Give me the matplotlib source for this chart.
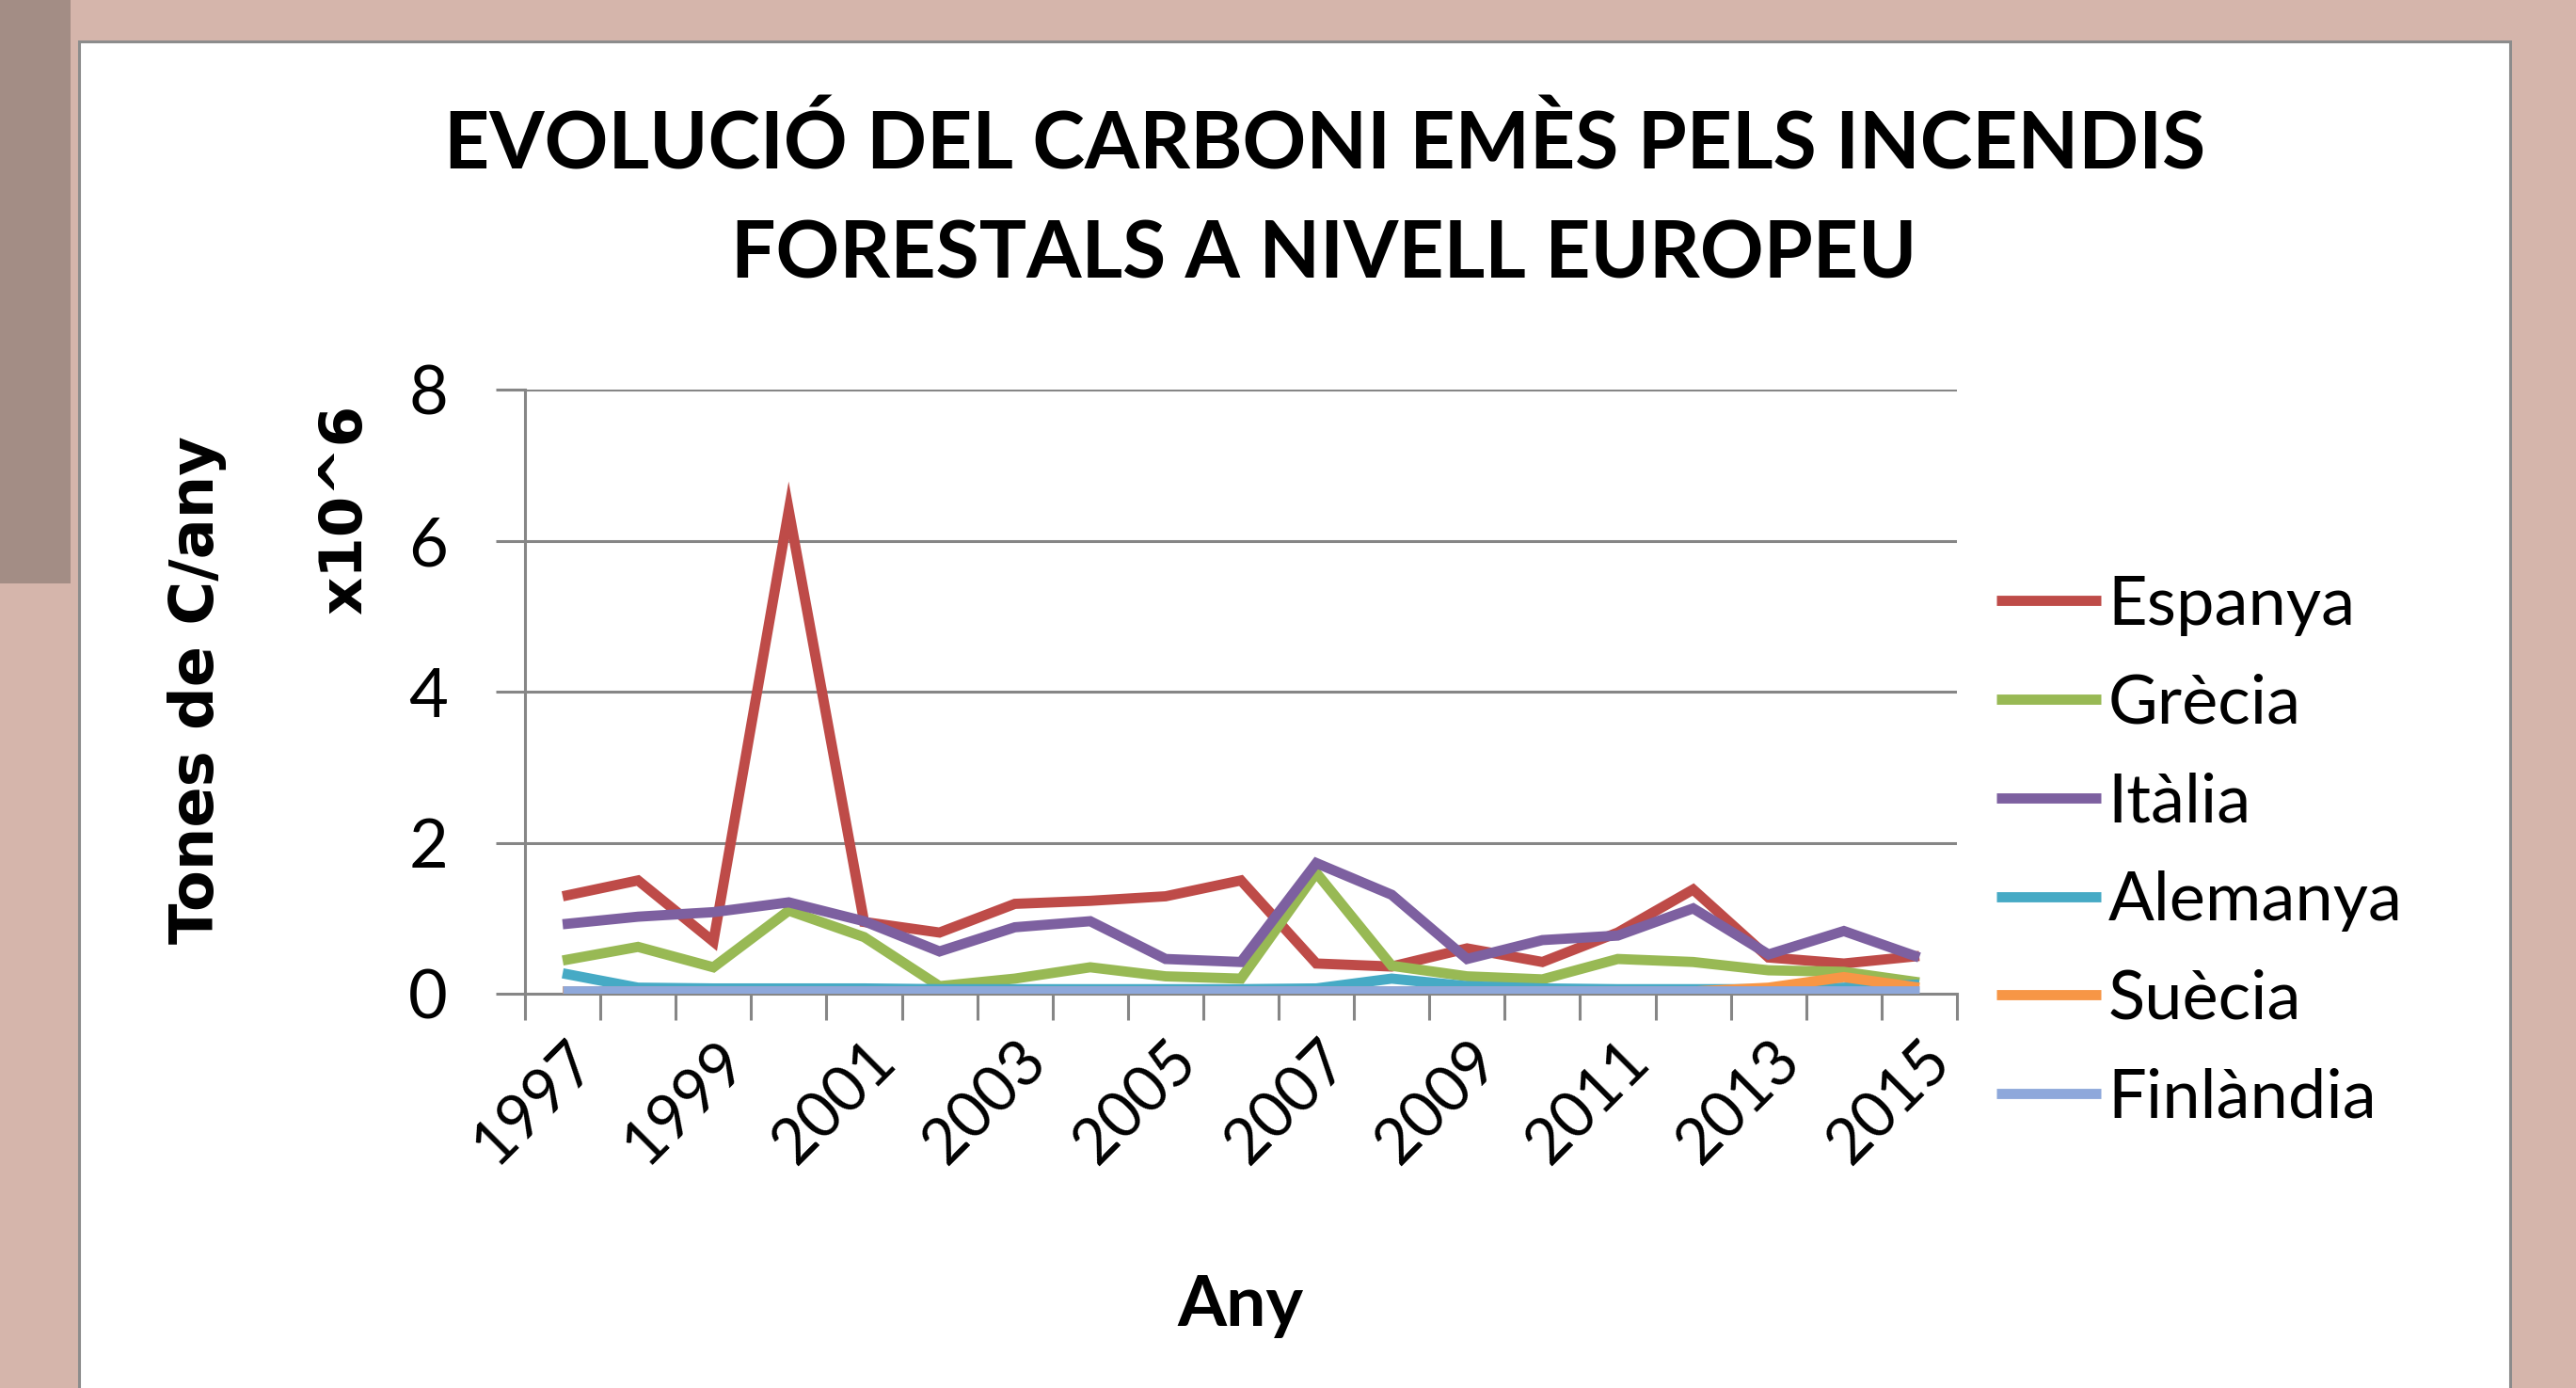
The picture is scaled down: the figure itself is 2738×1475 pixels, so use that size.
import matplotlib.pyplot as plt
from matplotlib.patches import Rectangle
from matplotlib.transforms import ScaledTranslation

# Data (x10^6 tones de C/any)
anys = list(range(1997, 2016))
espanya = [1.29, 1.50, 0.69, 6.40, 0.95, 0.81, 1.19, 1.23, 1.29, 1.50,
           0.40, 0.36, 0.60, 0.42, 0.81, 1.38, 0.48, 0.40, 0.50]
grecia = [0.44, 0.62, 0.35, 1.10, 0.75, 0.10, 0.20, 0.35, 0.23, 0.20,
          1.60, 0.37, 0.23, 0.19, 0.46, 0.42, 0.31, 0.29, 0.15]
italia = [0.92, 1.02, 1.08, 1.21, 0.96, 0.56, 0.88, 0.96, 0.46, 0.42,
          1.73, 1.31, 0.46, 0.71, 0.77, 1.13, 0.52, 0.83, 0.48]
alemanya = [0.27, 0.08, 0.07, 0.07, 0.07, 0.06, 0.06, 0.06, 0.06, 0.06,
            0.07, 0.20, 0.10, 0.07, 0.06, 0.06, 0.06, 0.08, 0.12]
suecia = [0.03, 0.03, 0.03, 0.03, 0.03, 0.03, 0.03, 0.03, 0.03, 0.03,
          0.03, 0.03, 0.03, 0.03, 0.03, 0.03, 0.08, 0.22, 0.08]
finlandia = [0.04, 0.04, 0.04, 0.04, 0.04, 0.04, 0.04, 0.04, 0.04, 0.04,
             0.04, 0.04, 0.04, 0.04, 0.04, 0.04, 0.04, 0.04, 0.04]

series = [('Espanya', espanya, '#BE4B48'),
          ('Grècia', grecia, '#98B954'),
          ('Itàlia', italia, '#7D60A0'),
          ('Alemanya', alemanya, '#46AAC5'),
          ('Suècia', suecia, '#F79646'),
          ('Finlàndia', finlandia, '#8EA8DB')]

W, H = 2738, 1475
fig = plt.figure(figsize=(W / 100, H / 100), dpi=100)
# photo background behind the slide (semi transparent)
fig.patch.set_facecolor((150 / 255, 70 / 255, 45 / 255, 0.4))
fig.patches.append(Rectangle((0, 1 - 620 / H), 75 / W, 620 / H, transform=fig.transFigure,
                             facecolor=(70 / 255, 65 / 255, 62 / 255, 0.35), edgecolor='none', zorder=0))
# white chart panel
fig.patches.append(Rectangle((84 / W, -0.02), (2668 - 84) / W, 1 - 44 / H + 0.02,
                             transform=fig.transFigure, facecolor='white',
                             edgecolor='#8C8C8C', linewidth=2.2, zorder=1))

ax = fig.add_axes([558 / W, 1 - 1056 / H, (2080 - 558) / W, (1056 - 414) / H])
ax.set_zorder(3)
ax.set_facecolor('none')

x = list(range(len(anys)))
for name, vals, col in series:
    ax.plot(x, vals, color=col, linewidth=7.8, label=name, solid_joinstyle='miter',
            solid_capstyle='butt', zorder=3)

ax.set_xlim(-0.5, len(anys) - 0.5)
ax.set_ylim(0, 8)
ax.set_yticks([0, 2, 4, 6, 8])
ax.set_yticklabels(['0', '2', '4', '6', '8'], fontsize=52, fontfamily='Lato')
ax.grid(axis='y', color='#868686', linewidth=2.2)
ax.set_axisbelow(True)

# category boundaries as major ticks, labels every two years on minor ticks
ax.set_xticks([i - 0.5 for i in range(len(anys) + 1)])
ax.set_xticklabels([])
ax.set_xticks(x[::2], [str(a) for a in anys[::2]], minor=True)
ax.tick_params(axis='x', which='major', direction='out', length=20, width=2.2, color='#868686')
ax.tick_params(axis='x', which='minor', length=0, pad=28, labelsize=48)
ax.tick_params(axis='y', direction='out', length=22, width=2.2, color='#868686', pad=37)
off = ScaledTranslation(0.02, 0, fig.dpi_scale_trans)
for lab in ax.get_xticklabels(minor=True):
    lab.set_rotation(45)
    lab.set_ha('right')
    lab.set_rotation_mode('anchor')
    lab.set_fontfamily('Lato')
    lab.set_transform(lab.get_transform() + off)

for s in ['top', 'right']:
    ax.spines[s].set_visible(False)
for s in ['left', 'bottom']:
    ax.spines[s].set_color('#868686')
    ax.spines[s].set_linewidth(2.2)

# titles and axis labels
fig.text(1408 / W, 1 - 154 / H, 'EVOLUCIÓ DEL CARBONI EMÈS PELS INCENDIS', ha='center', va='center',
         fontsize=60.5, fontweight='bold', fontfamily='Lato', zorder=5)
fig.text(1407 / W, 1 - 271 / H, 'FORESTALS A NIVELL EUROPEU', ha='center', va='center',
         fontsize=60.5, fontweight='bold', fontfamily='Lato', zorder=5)
fig.text(210 / W, 1 - 733 / H, 'Tones de C/any', rotation=90, ha='center', va='center',
         fontsize=46, fontweight='bold', fontfamily='DejaVu Sans', zorder=5)
fig.text(367 / W, 1 - 541 / H, 'x10^6', rotation=90, ha='center', va='center',
         fontsize=45, fontweight='bold', fontfamily='DejaVu Sans', zorder=5)
fig.text(1318 / W, 1 - 1388 / H, 'Any', ha='center', va='center',
         fontsize=54, fontweight='bold', fontfamily='Lato', zorder=5)

leg = ax.legend(loc='center left', bbox_to_anchor=(2122 / W, 1 - 905 / H),
                bbox_transform=fig.transFigure, frameon=False,
                prop={'family': 'Lato', 'size': 52}, handlelength=1.53,
                handletextpad=0.11, labelspacing=0.55, borderpad=0, borderaxespad=0)

fig.savefig('out.png', dpi=100, facecolor=fig.get_facecolor())
